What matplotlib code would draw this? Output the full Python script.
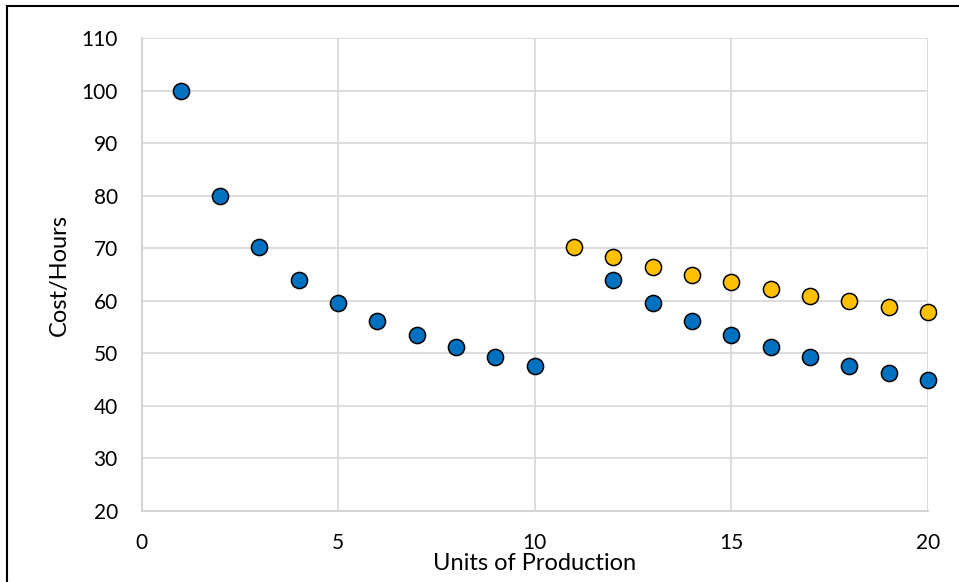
import matplotlib
matplotlib.use("Agg")
import matplotlib.pyplot as plt
from matplotlib.lines import Line2D

plt.rcParams['font.family'] = ['Lato', 'DejaVu Sans']

# Data
units_a = [1, 2, 3, 4, 5, 6, 7, 8, 9, 10, 12, 13, 14, 15, 16, 17, 18, 19, 20]
cost_a = [100, 80, 70.2, 64, 59.6, 56.2, 53.4, 51.2, 49.3, 47.6,
          64, 59.6, 56.2, 53.4, 51.2, 49.3, 47.6, 46.2, 44.9]
units_b = [11, 12, 13, 14, 15, 16, 17, 18, 19, 20]
cost_b = [70.2, 68.3, 66.5, 65.0, 63.6, 62.3, 61.0, 59.9, 58.9, 57.9]
x_ticks = [0, 5, 10, 15, 20]
y_ticks = [20, 30, 40, 50, 60, 70, 80, 90, 100, 110]

fig = plt.figure(figsize=(9.59, 5.82), dpi=100)
ax = fig.add_axes([141.5/959, 1-511/582, (928-141.5)/959, (511-38)/582])

ax.scatter(units_a, cost_a, s=135, c='#0070C0', edgecolors='black', linewidths=1.1, zorder=3, clip_on=False)
ax.scatter(units_b, cost_b, s=135, c='#FFC000', edgecolors='black', linewidths=1.1, zorder=4, clip_on=False)

ax.set_xlim(0, 20)
ax.set_ylim(20, 110)
ax.set_xticks(x_ticks)
ax.set_yticks(y_ticks)
ax.grid(True, color='#d9d9d9', linewidth=1.3, zorder=0)
ax.set_axisbelow(True)
for s in ['top', 'right']:
    ax.spines[s].set_visible(False)
for s in ['left', 'bottom']:
    ax.spines[s].set_color('#d0d0d0')
    ax.spines[s].set_linewidth(1.3)
ax.tick_params(axis='both', length=0, labelsize=15, colors='black')
ax.tick_params(axis='x', pad=16)
ax.tick_params(axis='y', pad=17)

ax.set_xlabel('Units of Production', fontsize=17)
ax.xaxis.label.set_va('center')
ax.xaxis.set_label_coords(0.5, -(564-511)/473)
ax.set_ylabel('Cost/Hours', fontsize=17)
ax.yaxis.label.set_va('center')
ax.yaxis.set_label_coords(-(141.5-59)/786.5, 0.5)

# outer frame (left and top edges visible)
fig.add_artist(Line2D([7/959, 7/959], [0, 1-6/582], color='black', linewidth=1.5, transform=fig.transFigure))
fig.add_artist(Line2D([7/959, 1], [1-6/582, 1-6/582], color='black', linewidth=1.5, transform=fig.transFigure))

fig.savefig('out.png', dpi=100)
